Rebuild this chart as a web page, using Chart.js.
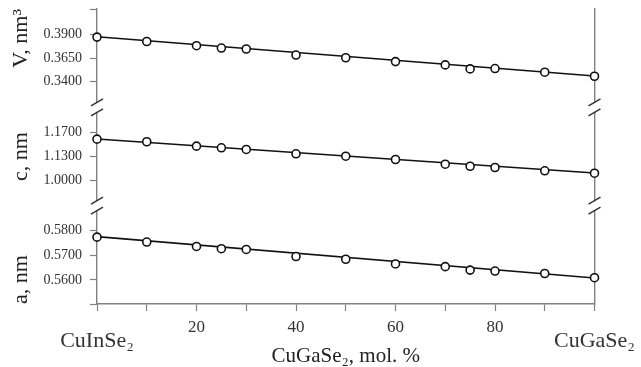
<!DOCTYPE html>
<html>
<head>
<meta charset="utf-8">
<script src="https://cdn.jsdelivr.net/npm/chart.js@4.4.1/dist/chart.umd.min.js"></script>
<style>
  html, body { margin: 0; padding: 0; background: #fff; }
  #wrap { width: 641px; height: 367px; }
</style>
</head>
<body>
<div id="wrap"><canvas id="c" width="641" height="367"></canvas></div>
<script>
// ---- data ----
const composition = [0, 10, 20, 25, 30, 40, 50, 60, 70, 75, 80, 90, 100]; // mol. % CuGaSe2
const volumeV = [0.3876, 0.3829, 0.3784, 0.3759, 0.3749, 0.3685, 0.3656, 0.3615, 0.3580, 0.3537, 0.3541, 0.3502, 0.3459];
const latticeC = [1.1588, 1.1545, 1.1472, 1.1445, 1.1417, 1.1345, 1.1305, 1.1250, 1.1172, 1.1138, 1.1117, 1.1062, 1.1022];
const latticeA = [0.5774, 0.5754, 0.5736, 0.5727, 0.5724, 0.5695, 0.5684, 0.5665, 0.5654, 0.5640, 0.5636, 0.5626, 0.5609];
const fitX = [0, 100];
const fitV = [0.3879, 0.3461];
const fitC = [1.1592, 1.1025];
const fitA = [0.5776, 0.5608];

// tick values and their printed labels
const xTickValues = [0, 10, 20, 30, 40, 50, 60, 70, 80, 90, 100];
const xTickLabels = ['CuInSe₂', '', '20', '', '40', '', '60', '', '80', '', 'CuGaSe₂'];
const vTickValues = [0.34, 0.365, 0.39];
const vTickLabels = ['0.3400', '0.3650', '0.3900'];
const cTickValues = [1.09, 1.13, 1.17];
const cTickLabels = ['1.0000', '1.1300', '1.1700'];
const aTickValues = [0.56, 0.57, 0.58];
const aTickLabels = ['0.5600', '0.5700', '0.5800'];

const FONT = "'Liberation Serif', 'Times New Roman', serif";
const AXIS = '#808080';
const INK = '#111';

const pts = (xs, ys) => xs.map((x, i) => ({ x: x, y: ys[i] }));

function pointSet(data, axis) {
  return {
    data: data, yAxisID: axis, showLine: false, order: 1, clip: false,
    pointRadius: 4, pointHoverRadius: 4, pointBorderWidth: 1.6,
    pointBackgroundColor: '#fff', pointBorderColor: INK
  };
}
function fitSet(data, axis) {
  return {
    data: data, yAxisID: axis, showLine: true, order: 2, clip: false,
    borderColor: INK, borderWidth: 1.6, pointRadius: 0, fill: false
  };
}

function yScale(min, max, values, labels, title, align, extra) {
  return {
    type: 'linear', position: 'left', stack: 'left', stackWeight: 1,
    min: min, max: max,
    afterBuildTicks: (s) => { s.ticks = (extra || []).concat(values).map(v => ({ value: v })); },
    afterFit: (s) => { s.width = 97; s.paddingTop = 0; s.paddingBottom = 0; },
    ticks: {
      padding: 8, color: '#333', font: { family: FONT, size: 14 },
      callback: (v) => { const i = values.indexOf(v); return i < 0 ? '' : labels[i]; }
    },
    grid: { drawOnChartArea: false, drawTicks: true, tickLength: 7, tickColor: AXIS, tickWidth: 1.2 },
    border: { display: true, color: AXIS, width: 1.4 },
    title: { display: true, text: title, align: align, color: '#222',
             font: { family: FONT, size: 22, lineHeight: 1.2 }, padding: { top: 8, bottom: 9 } }
  };
}

const breakPlugin = {
  id: 'axisBreaks',
  afterDraw(chart) {
    const ctx = chart.ctx;
    const bounds = [chart.scales.yV.bottom, chart.scales.yC.bottom];
    const xs = [chart.chartArea.left, chart.chartArea.right];
    ctx.save();
    bounds.forEach(y => {
      xs.forEach(x => {
        ctx.fillStyle = '#fff';
        ctx.fillRect(x - 3, y - 4.5, 6, 9);
        ctx.strokeStyle = '#333';
        ctx.lineWidth = 1.5;
        [-5, 5].forEach(d => {
          ctx.beginPath();
          ctx.moveTo(x - 6, y + d + 3.5);
          ctx.lineTo(x + 6, y + d - 3.5);
          ctx.stroke();
        });
      });
    });
    ctx.restore();
  }
};

new Chart(document.getElementById('c'), {
  type: 'line',
  data: {
    datasets: [
      fitSet(pts(fitX, fitV), 'yV'), pointSet(pts(composition, volumeV), 'yV'),
      fitSet(pts(fitX, fitC), 'yC'), pointSet(pts(composition, latticeC), 'yC'),
      fitSet(pts(fitX, fitA), 'yA'), pointSet(pts(composition, latticeA), 'yA')
    ]
  },
  options: {
    responsive: false, animation: false, devicePixelRatio: 1,
    layout: { padding: { top: 9, left: 0, right: 0, bottom: 0 } },
    plugins: { legend: { display: false }, tooltip: { enabled: false } },
    scales: {
      x: {
        type: 'linear', min: 0, max: 100,
        afterBuildTicks: (s) => { s.ticks = xTickValues.map(v => ({ value: v })); },
        afterFit: (s) => { s.height = 63; },
        ticks: {
          padding: 6, color: '#333', maxRotation: 0, autoSkip: false,
          font: (c) => (c.tick && (c.tick.value === 0 || c.tick.value === 100))
            ? { family: FONT, size: 22, lineHeight: 2.2 }
            : { family: FONT, size: 17, lineHeight: 1.2 },
          callback: (v) => { const i = xTickValues.indexOf(v); return i < 0 ? '' : xTickLabels[i]; }
        },
        grid: { drawOnChartArea: false, drawTicks: true, tickLength: 7, tickColor: AXIS, tickWidth: 1.2 },
        border: { display: true, color: AXIS, width: 1.4 },
        title: { display: true, text: 'CuGaSe₂, mol. %', color: '#222',
                 font: { family: FONT, size: 21, lineHeight: 1 }, padding: { top: 0, bottom: 0 } }
      },
      yA: yScale(0.5502, 0.5902, aTickValues, aTickLabels, 'a, nm', 'start', [0.5502]),
      yC: yScale(1.0483, 1.2117, cTickValues, cTickLabels, 'c, nm', 'center'),
      yV: yScale(0.3128, 0.4175, vTickValues, vTickLabels, 'V, nm³', 'end', [0.4175]),
      yr: {
        type: 'linear', position: 'right', min: 0, max: 1,
        afterFit: (s) => { s.width = 45.5; s.paddingTop = 0; s.paddingBottom = 0; },
        ticks: { display: false },
        grid: { drawOnChartArea: false, drawTicks: false },
        border: { display: true, color: AXIS, width: 1.4 }
      }
    }
  },
  plugins: [breakPlugin]
});
</script>
</body>
</html>
